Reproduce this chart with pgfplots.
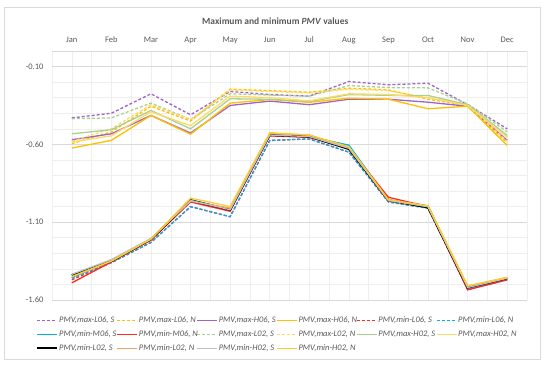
\documentclass[border=0pt]{standalone}
\usepackage{fontspec}
\setmainfont{Carlito}
\usepackage{pgfplots}
\usepackage{pgfplotstable}
\pgfplotsset{compat=1.18}
\definecolor{cpurple}{RGB}{160,100,200}
\definecolor{cgold}{RGB}{255,192,0}
\definecolor{cred}{RGB}{255,40,40}
\definecolor{ccyan}{RGB}{0,176,240}
\definecolor{cgreen}{RGB}{169,209,142}
\definecolor{clyellow}{RGB}{255,217,102}
\definecolor{corange}{RGB}{244,164,96}
\definecolor{cgrey}{RGB}{191,191,191}
\definecolor{cgoldb}{RGB}{255,204,40}
\definecolor{txt}{RGB}{89,89,89}
\definecolor{gmaj}{RGB}{217,217,217}
\definecolor{gmin}{RGB}{238,238,238}

% columns: month index, then the 16 series in legend order
\pgfplotstableread{
m  a1     a2     a3     a4     a5     a6     a7     a8     a9     a10    a11    a12    a13    a14    a15    a16
0  -0.430 -0.595 -0.570 -0.624 -1.470 -1.460 -1.455 -1.490 -0.435 -0.580 -0.532 -0.585 -1.440 -1.450 -1.435 -1.450
1  -0.400 -0.520 -0.532 -0.574 -1.360 -1.360 -1.350 -1.355 -0.430 -0.500 -0.506 -0.545 -1.350 -1.350 -1.340 -1.350
2  -0.275 -0.355 -0.414 -0.414 -1.230 -1.230 -1.210 -1.215 -0.335 -0.345 -0.382 -0.390 -1.210 -1.205 -1.205 -1.210
3  -0.410 -0.450 -0.527 -0.535 -1.000 -1.000 -0.955 -0.970 -0.440 -0.440 -0.500 -0.480 -0.960 -0.965 -0.960 -0.945
4  -0.260 -0.245 -0.350 -0.335 -1.065 -1.065 -1.020 -1.030 -0.275 -0.250 -0.307 -0.290 -1.020 -1.010 -1.020 -1.000
5  -0.280 -0.255 -0.322 -0.312 -0.575 -0.575 -0.540 -0.545 -0.283 -0.260 -0.310 -0.300 -0.540 -0.530 -0.540 -0.525
6  -0.290 -0.265 -0.345 -0.330 -0.565 -0.565 -0.550 -0.555 -0.290 -0.270 -0.325 -0.320 -0.550 -0.540 -0.550 -0.540
7  -0.196 -0.239 -0.310 -0.303 -0.650 -0.650 -0.605 -0.625 -0.222 -0.245 -0.280 -0.275 -0.630 -0.620 -0.625 -0.615
8  -0.217 -0.250 -0.310 -0.310 -0.970 -0.970 -0.955 -0.940 -0.235 -0.255 -0.285 -0.280 -0.960 -0.960 -0.960 -0.955
9  -0.207 -0.310 -0.329 -0.371 -1.010 -1.010 -0.995 -1.000 -0.237 -0.300 -0.286 -0.300 -1.005 -1.000 -1.000 -0.995
10 -0.345 -0.350 -0.355 -0.355 -1.530 -1.530 -1.525 -1.535 -0.340 -0.350 -0.345 -0.350 -1.520 -1.510 -1.520 -1.510
11 -0.500 -0.590 -0.574 -0.607 -1.470 -1.470 -1.465 -1.470 -0.520 -0.580 -0.542 -0.555 -1.460 -1.455 -1.460 -1.455
}\data

\newcommand{\legtxt}[1]{\makebox[56.5bp][l]{\color{txt}\itshape #1}}

\begin{document}
\begin{tikzpicture}
\path[use as bounding box] (0,0) rectangle (550bp,365bp);
\draw[gmaj] (4.5bp,5.5bp) rectangle (540bp,358bp);
\begin{axis}[
  at={(52bp,65bp)}, anchor=south west,
  scale only axis, width=475bp, height=249bp,
  xmin=-0.5, xmax=11.5, ymin=-1.6, ymax=0,
  xtick={0,...,11},
  xticklabels={Jan,Feb,Mar,Apr,May,Jun,Jul,Aug,Sep,Oct,Nov,Dec},
  xticklabel pos=upper,
  minor xtick={-0.5,0.5,1.5,2.5,3.5,4.5,5.5,6.5,7.5,8.5,9.5,10.5,11.5},
  ytick={-1.6,-1.1,-0.6,-0.1},
  minor ytick={-1.5,-1.4,-1.3,-1.2,-1.0,-0.9,-0.8,-0.7,-0.5,-0.4,-0.3,-0.2},
  extra y ticks={0}, extra y tick labels={},
  extra y tick style={grid=major, major grid style={draw=gmaj, line width=0.8bp}},
  grid=both,
  major x grid style={draw=gmin, line width=0.5bp},
  minor x grid style={draw=gmin, line width=0.5bp},
  major y grid style={draw=gmaj, line width=0.8bp},
  minor y grid style={draw=gmin, line width=0.5bp},
  major tick length=0pt, minor tick length=0pt,
  axis line style={draw=none},
  tick label style={font=\fontsize{8.5bp}{10bp}\selectfont, text=txt},
  xticklabel style={anchor=base, yshift=8bp},
  yticklabel style={anchor=east, xshift=-5bp,
    /pgf/number format/fixed, /pgf/number format/fixed zerofill,
    /pgf/number format/precision=2, /pgf/number format/assume math mode=true},
  title={\textbf{Maximum and minimum \textit{PMV} values}},
  title style={at={(0.47,1)}, anchor=center, yshift=24bp, font=\fontsize{9.5bp}{11bp}\selectfont, text=txt},
  legend columns=6,
  legend image code/.code={\draw[#1] (0bp,0bp) -- (20bp,0bp);},
  legend style={at={(-0.0337,-0.064)}, anchor=north west, draw=none, fill=none,
    inner sep=0pt, column sep=0pt, row sep=4.5bp,
    nodes={inner sep=1bp, anchor=west},
    font=\fontsize{8.5bp}{10bp}\selectfont},
  every axis plot/.append style={line width=1.3bp},
]
\addplot[cpurple, dash pattern=on 3bp off 2bp] table[x=m,y=a1] {\data}; \addlegendentry{\legtxt{PMV,max-L06, S}}
\addplot[cgold, dash pattern=on 3bp off 2bp] table[x=m,y=a2] {\data}; \addlegendentry{\legtxt{PMV,max-L06, N}}
\addplot[cpurple] table[x=m,y=a3] {\data}; \addlegendentry{\legtxt{PMV,max-H06, S}}
\addplot[cgold] table[x=m,y=a4] {\data}; \addlegendentry{\legtxt{PMV,max-H06, N}}
\addplot[cred, dash pattern=on 3bp off 2bp] table[x=m,y=a5] {\data}; \addlegendentry{\legtxt{PMV,min-L06, S}}
\addplot[ccyan, dash pattern=on 3bp off 2bp] table[x=m,y=a6] {\data}; \addlegendentry{\legtxt{PMV,min-L06, N}}
\addplot[ccyan] table[x=m,y=a7] {\data}; \addlegendentry{\legtxt{PMV,min-M06, S}}
\addplot[cred] table[x=m,y=a8] {\data}; \addlegendentry{\legtxt{PMV,min-M06, N}}
\addplot[cgreen, dash pattern=on 3bp off 2bp] table[x=m,y=a9] {\data}; \addlegendentry{\legtxt{PMV,max-L02, S}}
\addplot[clyellow, dash pattern=on 3bp off 2bp] table[x=m,y=a10] {\data}; \addlegendentry{\legtxt{PMV,max-L02, N}}
\addplot[cgreen] table[x=m,y=a11] {\data}; \addlegendentry{\legtxt{PMV,max-H02, S}}
\addplot[clyellow] table[x=m,y=a12] {\data}; \addlegendentry{\legtxt{PMV,max-H02, N}}
\addplot[black, line width=2bp] table[x=m,y=a13] {\data}; \addlegendentry{\legtxt{PMV,min-L02, S}}
\addplot[corange] table[x=m,y=a14] {\data}; \addlegendentry{\legtxt{PMV,min-L02, N}}
\addplot[cgrey] table[x=m,y=a15] {\data}; \addlegendentry{\legtxt{PMV,min-H02, S}}
\addplot[cgoldb] table[x=m,y=a16] {\data}; \addlegendentry{\legtxt{PMV,min-H02, N}}
\end{axis}
\end{tikzpicture}
\end{document}
